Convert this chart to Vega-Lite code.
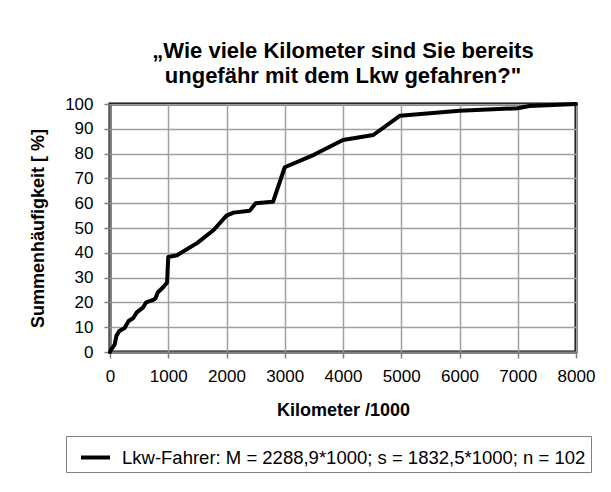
{
  "$schema": "https://vega.github.io/schema/vega-lite/v6.json",
  "width": 466,
  "height": 248,
  "autosize": "none",
  "padding": {"left": 110, "top": 104, "right": 35, "bottom": 140},
  "background": "white",
  "title": {
    "text": ["„Wie viele Kilometer sind Sie bereits", "ungefähr mit dem Lkw gefahren?\""],
    "font": "Liberation Sans",
    "fontSize": 22,
    "fontWeight": "bold",
    "color": "black",
    "anchor": "middle",
    "frame": "group",
    "offset": 7,
    "lineHeight": 25
  },
  "data": {
    "values": [
      {"km": 0, "pct": 0},
      {"km": 20, "pct": 1},
      {"km": 80, "pct": 3},
      {"km": 110, "pct": 6.5},
      {"km": 160, "pct": 8.5},
      {"km": 250, "pct": 9.7},
      {"km": 320, "pct": 12.5},
      {"km": 400, "pct": 13.7},
      {"km": 460, "pct": 16},
      {"km": 570, "pct": 18},
      {"km": 620, "pct": 20},
      {"km": 720, "pct": 20.8},
      {"km": 780, "pct": 21.6},
      {"km": 820, "pct": 24},
      {"km": 920, "pct": 26.3},
      {"km": 980, "pct": 28},
      {"km": 1000, "pct": 38.3},
      {"km": 1150, "pct": 39},
      {"km": 1500, "pct": 44},
      {"km": 1780, "pct": 49.2},
      {"km": 2000, "pct": 55},
      {"km": 2120, "pct": 56.2},
      {"km": 2400, "pct": 57},
      {"km": 2500, "pct": 60},
      {"km": 2800, "pct": 60.6},
      {"km": 3000, "pct": 74.5},
      {"km": 3500, "pct": 79.5},
      {"km": 4000, "pct": 85.5},
      {"km": 4520, "pct": 87.5},
      {"km": 4980, "pct": 95.3},
      {"km": 6000, "pct": 97.3},
      {"km": 7000, "pct": 98.3},
      {"km": 7200, "pct": 99.2},
      {"km": 8000, "pct": 100}
    ]
  },
  "mark": {"type": "line", "color": "black", "strokeWidth": 4, "strokeJoin": "round", "strokeCap": "round"},
  "encoding": {
    "x": {
      "field": "km",
      "type": "quantitative",
      "scale": {"domain": [0, 8000], "nice": false, "zero": true},
      "axis": {
        "values": [0, 1000, 2000, 3000, 4000, 5000, 6000, 7000, 8000],
        "format": "d",
        "title": "Kilometer /1000",
        "labelFlush": false,
        "labelOverlap": false,
        "labelPadding": 10,
        "titlePadding": 17
      }
    },
    "y": {
      "field": "pct",
      "type": "quantitative",
      "scale": {"domain": [0, 100], "nice": false},
      "axis": {
        "values": [0, 10, 20, 30, 40, 50, 60, 70, 80, 90, 100],
        "format": "d",
        "title": "Summenhäufigkeit [ %]",
        "labelFlush": false,
        "labelOverlap": false,
        "labelPadding": 11,
        "titlePadding": 17
      }
    },
    "color": {
      "datum": "Lkw-Fahrer: M = 2288,9*1000; s = 1832,5*1000; n = 102",
      "type": "nominal",
      "scale": {"range": ["black"]},
      "legend": {
        "orient": "none",
        "legendX": -44,
        "legendY": 332,
        "title": null,
        "symbolType": "stroke",
        "symbolStrokeWidth": 4,
        "symbolSize": 841,
        "symbolOffset": 8,
        "symbolStrokeColor": "black",
        "labelFont": "Liberation Sans",
        "labelFontSize": 18.5,
        "labelColor": "black",
        "labelLimit": 1000,
        "labelOffset": 10,
        "padding": 5,
        "strokeColor": "#808080",
        "fillColor": "white",
        "cornerRadius": 0
      }
    }
  },
  "config": {
    "view": {"stroke": "black", "strokeWidth": 3},
    "axis": {
      "labelFont": "Liberation Sans",
      "labelFontSize": 17,
      "labelColor": "black",
      "titleFont": "Liberation Sans",
      "titleFontSize": 18,
      "titleFontWeight": "bold",
      "titleColor": "black",
      "grid": true,
      "gridColor": "#a0a0a0",
      "gridWidth": 1.5,
      "gridOpacity": 1,
      "domainColor": "#808080",
      "domainWidth": 2,
      "tickColor": "#808080",
      "tickSize": 6,
      "tickWidth": 1.5
    }
  }
}
